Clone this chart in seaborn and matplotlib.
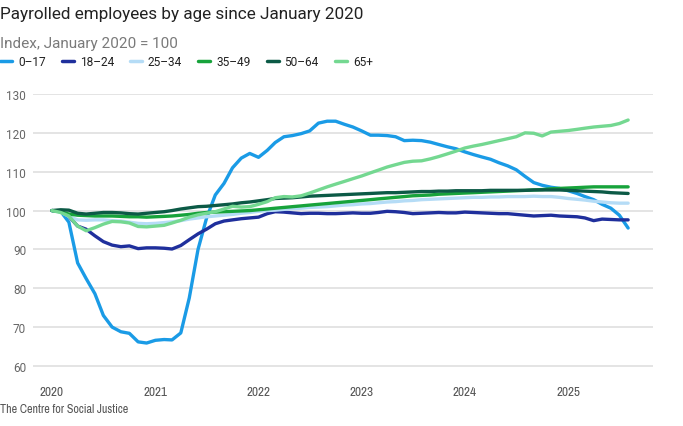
import numpy as np
import pandas as pd
import matplotlib
matplotlib.use('Agg')
import matplotlib.pyplot as plt
import matplotlib.dates as mdates
from matplotlib.lines import Line2D
import seaborn as sns

# Payrolled employees by age band, index Jan 2020 = 100 (monthly, Jan 2020 - Aug 2025)
groups = ['0–17', '18–24', '25–34', '35–49', '50–64', '65+']
colours = ['#1a9be6', '#1f2f9c', '#b5dcf6', '#17a33b', '#0c5a46', '#74d891']

age_0_17 = [100, 99.8, 97, 86.5, 82.5, 78.6, 73, 70, 68.8, 68.4, 66.2, 65.9,
            66.6, 66.8, 66.7, 68.5, 77.5, 90, 98, 104, 107, 111, 113.5, 114.7,
            113.7, 115.5, 117.5, 119, 119.3, 119.8, 120.5, 122.5, 123, 123, 122.2, 121.5,
            120.5, 119.4, 119.4, 119.3, 119, 118, 118.1, 118, 117.6, 117, 116.4, 115.9,
            115.1, 114.4, 113.8, 113.2, 112.3, 111.5, 110.5, 108.8, 107.2, 106.5, 106, 105.7,
            105.1, 104.4, 103.6, 102.8, 101.6, 100.6, 98.8, 95.5]
age_18_24 = [100, 99.8, 98.5, 96, 95.2, 93.5, 92, 91.1, 90.7, 90.9, 90.2, 90.4,
             90.4, 90.3, 90.1, 91, 92.5, 94, 95.2, 96.6, 97.3, 97.6, 97.9, 98.1,
             98.3, 99.2, 99.7, 99.6, 99.4, 99.2, 99.3, 99.3, 99.2, 99.2, 99.3, 99.4,
             99.3, 99.3, 99.5, 99.8, 99.7, 99.5, 99.2, 99.3, 99.4, 99.5, 99.4, 99.4,
             99.6, 99.5, 99.4, 99.3, 99.2, 99.2, 99, 98.8, 98.6, 98.7, 98.8, 98.6,
             98.5, 98.4, 98.1, 97.4, 97.8, 97.7, 97.6, 97.6]
age_25_34 = [100, 99.6, 98.5, 97.6, 97.5, 97.6, 97.6, 97.4, 97.3, 97, 96.7, 96.6,
             96.7, 96.9, 97.1, 97.4, 97.8, 98.1, 98.4, 98.6, 98.8, 99, 99.3, 99.5,
             99.8, 100, 100.1, 100.3, 100.5, 100.6, 100.8, 100.9, 101, 101.2, 101.4, 101.5,
             101.7, 101.8, 102, 102.2, 102.3, 102.5, 102.6, 102.8, 102.9, 103, 103.1, 103.2,
             103.3, 103.4, 103.4, 103.5, 103.5, 103.6, 103.6, 103.6, 103.7, 103.6, 103.6, 103.4,
             103.1, 102.9, 102.7, 102.4, 102.2, 102, 101.9, 101.9]
age_35_49 = [100, 99.7, 99.1, 98.8, 98.7, 98.6, 98.6, 98.6, 98.5, 98.4, 98.4, 98.3,
             98.4, 98.5, 98.6, 98.8, 99, 99.3, 99.5, 99.6, 99.7, 99.8, 99.9, 100,
             100.2, 100.4, 100.6, 100.8, 101, 101.2, 101.4, 101.6, 101.8, 102, 102.2, 102.4,
             102.6, 102.8, 103, 103.2, 103.4, 103.6, 103.8, 103.9, 104, 104.2, 104.3, 104.4,
             104.5, 104.6, 104.7, 104.8, 104.9, 105, 105.1, 105.2, 105.3, 105.4, 105.6, 105.7,
             105.8, 105.9, 106, 106.1, 106.1, 106.1, 106.1, 106.1]
age_50_64 = [100, 100.2, 100.1, 99.3, 99.1, 99.3, 99.5, 99.5, 99.4, 99.2, 99.1, 99.3,
             99.5, 99.7, 100, 100.4, 100.7, 101, 101.1, 101.3, 101.5, 101.7, 102, 102.2,
             102.5, 102.8, 103.1, 103.2, 103.3, 103.5, 103.7, 103.8, 103.9, 104, 104.1, 104.2,
             104.3, 104.4, 104.5, 104.6, 104.6, 104.7, 104.8, 104.9, 104.9, 105, 105, 105.1,
             105.1, 105.1, 105.1, 105.2, 105.2, 105.2, 105.2, 105.2, 105.3, 105.3, 105.3, 105.3,
             105.2, 105.1, 105, 104.9, 104.8, 104.6, 104.5, 104.4]
age_65_plus = [100, 99.5, 98.6, 96, 94.8, 95.6, 96.5, 97.2, 97.1, 96.8, 95.9, 95.8,
               96, 96.2, 96.8, 97.5, 98.3, 98.9, 99.3, 99.7, 100.4, 101.1, 100.9, 101,
               101.6, 102.3, 103.3, 103.6, 103.5, 103.8, 104.5, 105.3, 106.1, 106.8, 107.5, 108.2,
               108.9, 109.7, 110.4, 111.2, 111.8, 112.4, 112.7, 112.8, 113.3, 113.9, 114.6, 115.3,
               116.1, 116.6, 117, 117.5, 118, 118.5, 119, 120, 119.9, 119.2, 120.2, 120.4,
               120.6, 120.9, 121.2, 121.5, 121.7, 121.9, 122.4, 123.3]

y_ticks = [60, 70, 80, 90, 100, 110, 120, 130]
x_years = [2020, 2021, 2022, 2023, 2024, 2025]

series = [age_0_17, age_18_24, age_25_34, age_35_49, age_50_64, age_65_plus]
months = pd.date_range('2020-01-01', periods=len(age_0_17), freq='MS')

frames = []
for g, vals in zip(groups, series):
    frames.append(pd.DataFrame({'month': months, 'index': vals, 'age': g}))
df = pd.concat(frames, ignore_index=True)

sns.set_style('white')
plt.rcParams['font.family'] = ['Roboto', 'DejaVu Sans']
narrow = ['Archivo Narrow', 'Roboto Condensed', 'Roboto', 'DejaVu Sans']

fig = plt.figure(figsize=(6.83, 4.27), dpi=100)
ax = fig.add_axes([33 / 683, 1 - 372 / 427, 620 / 683, (372 - 95) / 427])

sns.lineplot(data=df, x='month', y='index', hue='age', hue_order=groups,
             palette=colours, linewidth=2.4, ax=ax, legend=False)

ax.set_ylim(58.7, 130)
ax.set_xlim(pd.Timestamp('2019-10-26'), pd.Timestamp('2025-10-28'))
ax.set_yticks(y_ticks)
ax.set_xticks([pd.Timestamp(f'{y}-01-01') for y in x_years])
ax.xaxis.set_major_formatter(mdates.DateFormatter('%Y'))
ax.set_xlabel('')
ax.set_ylabel('')
for s in ax.spines.values():
    s.set_visible(False)
ax.grid(axis='y', color='#dddddd', linewidth=1.1)
ax.grid(axis='x', visible=False)
ax.set_axisbelow(True)
ax.tick_params(axis='y', length=0, pad=5, labelsize=8.5, labelcolor='#666666')
ax.tick_params(axis='x', length=6, width=0.8, color='#cccccc', direction='out', pad=5,
               labelsize=9.5, labelcolor='#555555')
for lab in ax.get_xticklabels():
    lab.set_family(narrow)

fig.text(0.0, 1 - 14 / 427, 'Payrolled employees by age since January 2020',
         fontsize=12.3, color='#222222', va='center', ha='left')
fig.text(0.0, 1 - 44 / 427, 'Index, January 2020 = 100',
         fontsize=11, color='#7a7a7a', va='center', ha='left')
fig.text(0.0, 1 - 410 / 427, 'The Centre for Social Justice',
         fontsize=8.7, color='#555555', va='center', ha='left', family=narrow)

handles = [Line2D([], [], color=c, linewidth=2.5) for c in colours]
fig.legend(handles, groups, loc='center left', bbox_to_anchor=(0.0, 1 - 63 / 427),
           ncol=6, frameon=False, fontsize=8.6, handlelength=1.0, handletextpad=0.5,
           columnspacing=1.35, borderpad=0, borderaxespad=0, labelcolor='#222222')

fig.savefig('out.png', dpi=100)
